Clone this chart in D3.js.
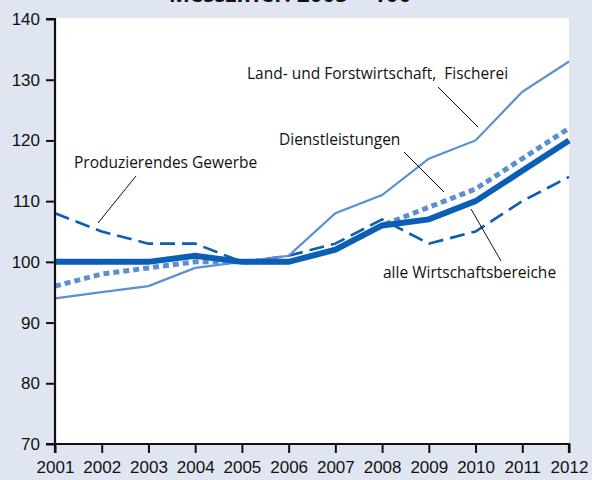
<!DOCTYPE html>
<html lang="de">
<head>
    <meta charset="UTF-8" />
    <title>Messziffer 2005 = 100</title>
    <script src="https://d3js.org/d3.v7.min.js"></script>
    <style>
        body {
            margin: 0;
            background: #dfe6f2;
            font-family: 'Open Sans', Arial, sans-serif;
        }
        svg { display: block; }
        .tick text { font-size: 17px; fill: #111; }
        .label { font-size: 15.5px; fill: #111; white-space: pre; }
    </style>
</head>
<body>
<script>
    // Daten
    const years = [2001, 2002, 2003, 2004, 2005, 2006, 2007, 2008, 2009, 2010, 2011, 2012];
    const alleBereiche = [100, 100, 100, 101, 100, 100, 102, 106, 107, 110, 115, 120];
    const landForst = [94, 95, 96, 99, 100, 101, 108, 111, 117, 120, 128, 133];
    const produzierend = [108, 105, 103, 103, 100, 101, 103, 107, 103, 105, 110, 114];
    const dienstleistungen = [96, 98, 99, 100, 100, 100, 102, 106, 109, 112, 117, 122];
    const yTicks = [70, 80, 90, 100, 110, 120, 130, 140];

    const width = 592, height = 480;
    const margin = { top: 19, right: 23, bottom: 36, left: 55 };

    const svg = d3.select('body').append('svg').attr('width', width).attr('height', height);

    // Titel (oben abgeschnitten wie im Original)
    svg.append('text')
        .attr('x', 290).attr('y', 1.5)
        .attr('text-anchor', 'middle')
        .attr('font-size', 22.5).attr('font-weight', 'bold').attr('fill', '#111')
        .text('Messziffer: 2005 = 100');

    const x = d3.scaleLinear().domain([2001, 2012]).range([margin.left, width - margin.right]);
    const y = d3.scaleLinear().domain([70, 140]).range([height - margin.bottom, margin.top]);

    // weiße Zeichenfläche
    svg.append('rect')
        .attr('x', margin.left).attr('y', y(140) - 1)
        .attr('width', x(2012) - margin.left).attr('height', y(70) - y(140) + 1)
        .attr('fill', '#fff');

    const series = [
        { values: produzierend, color: '#0a5fb4', width: 2.6, dash: '15,7' },
        { values: landForst, color: '#5b8fd2', width: 2.2, dash: null },
        { values: dienstleistungen, color: '#5b8fd2', width: 5, dash: '6,4' },
        { values: alleBereiche, color: '#0a5fb4', width: 6, dash: null }
    ];

    const line = d3.line()
        .x((d, i) => x(years[i]))
        .y(d => y(d));

    svg.selectAll('path.series')
        .data(series)
        .enter()
        .append('path')
        .attr('class', 'series')
        .attr('d', d => line(d.values))
        .attr('fill', 'none')
        .attr('stroke', d => d.color)
        .attr('stroke-width', d => d.width)
        .attr('stroke-dasharray', d => d.dash);

    // Achsen
    const yAxis = svg.append('g')
        .attr('transform', `translate(${margin.left},0)`)
        .call(d3.axisLeft(y).tickValues(yTicks).tickSize(9).tickPadding(6).tickFormat(d3.format('d')));
    const xAxis = svg.append('g')
        .attr('transform', `translate(0,${y(70)})`)
        .call(d3.axisBottom(x).tickValues(years).tickSize(9).tickPadding(8).tickFormat(d3.format('d')));

    [yAxis, xAxis].forEach(g => {
        g.select('.domain').attr('stroke', '#111').attr('stroke-width', 2.2);
        g.selectAll('.tick line').attr('stroke', '#111').attr('stroke-width', 2);
    });
    yAxis.select('.domain').attr('d', `M-9,${y(140)}H0V${y(70)}H-9`);
    xAxis.select('.domain').attr('d', `M${x(2001)},9V0H${x(2012)}V9`);

    // Beschriftungen mit Hinweislinien
    const labels = [
        { text: 'Land- und Forstwirtschaft,  Fischerei', tx: 247, ty: 79, from: [438, 87], to: [478, 127] },
        { text: 'Dienstleistungen', tx: 279, ty: 145, from: [404, 152], to: [444, 192] },
        { text: 'Produzierendes Gewerbe', tx: 74, ty: 168, from: [136, 176], to: [98, 223] },
        { text: 'alle Wirtschaftsbereiche', tx: 383, ty: 278, from: [471, 209], to: [501, 261] }
    ];

    svg.selectAll('text.label')
        .data(labels)
        .enter()
        .append('text')
        .attr('class', 'label')
        .attr('x', d => d.tx).attr('y', d => d.ty)
        .text(d => d.text);

    svg.selectAll('line.leader')
        .data(labels)
        .enter()
        .append('line')
        .attr('class', 'leader')
        .attr('x1', d => d.from[0]).attr('y1', d => d.from[1])
        .attr('x2', d => d.to[0]).attr('y2', d => d.to[1])
        .attr('stroke', '#111').attr('stroke-width', 1);
</script>
</body>
</html>
